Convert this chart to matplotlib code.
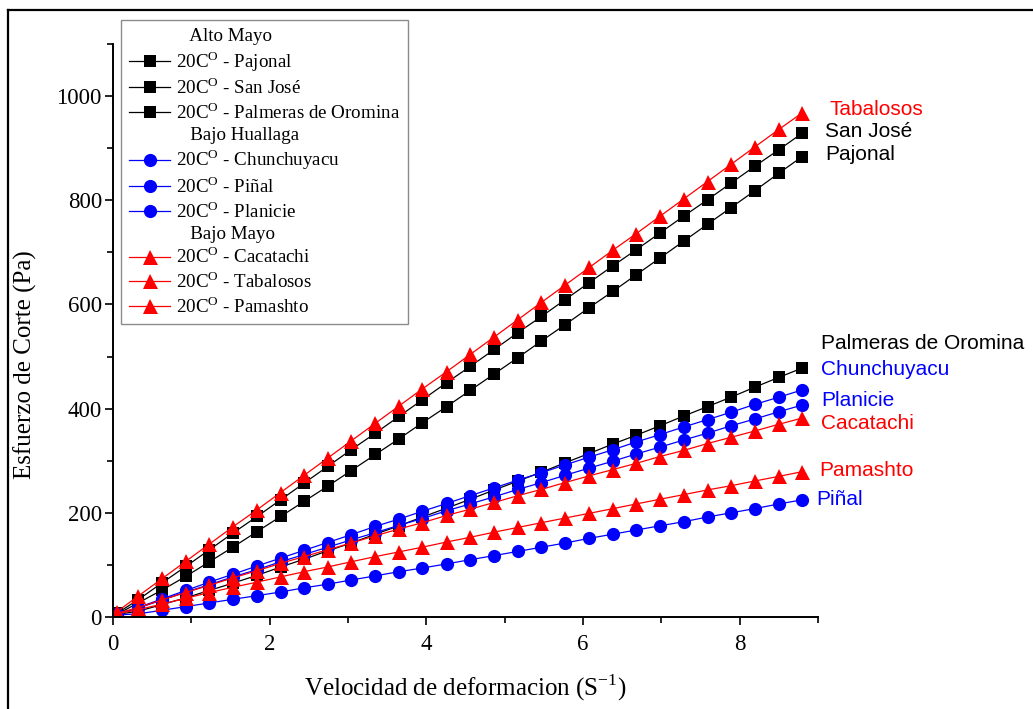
import matplotlib
matplotlib.use("Agg")
import matplotlib.pyplot as plt
from matplotlib.lines import Line2D
from matplotlib.ticker import MultipleLocator

plt.rcParams['font.family'] = ['Liberation Serif', 'DejaVu Serif']
plt.rcParams['mathtext.fontset'] = 'custom'
plt.rcParams['mathtext.rm'] = 'Liberation Serif'

# shear rate (1/s)
x = [0.05, 0.32, 0.63, 0.93, 1.23, 1.53, 1.84, 2.14, 2.44, 2.74,
     3.04, 3.35, 3.65, 3.95, 4.26, 4.56, 4.87, 5.17, 5.47, 5.77,
     6.08, 6.38, 6.68, 6.98, 7.29, 7.59, 7.89, 8.19, 8.50, 8.80]

# Alto Mayo
pajonal = [5, 27, 52, 78, 106, 134, 164, 193, 222, 251,
           281, 312, 342, 373, 404, 435, 467, 498, 530, 561,
           594, 625, 657, 689, 722, 754, 786, 818, 852, 884]
san_jose = [7, 33, 66, 97, 129, 161, 193, 225, 257, 289,
            321, 353, 385, 417, 450, 481, 514, 546, 577, 609,
            642, 674, 705, 737, 770, 801, 833, 865, 897, 929]
palmeras = [5, 11, 24, 37, 51, 65, 80, 96, 111, 127,
            142, 159, 175, 192, 209, 226, 244, 261, 278, 296,
            314, 332, 349, 367, 386, 404, 422, 441, 460, 478]
# Bajo Huallaga
chunchuyacu = [5, 18, 35, 51, 67, 82, 98, 113, 128, 143,
               158, 174, 188, 203, 218, 233, 248, 263, 277, 292,
               307, 321, 336, 350, 365, 379, 393, 408, 422, 436]
pinal = [4, 6, 13, 20, 27, 34, 41, 48, 56, 63,
         71, 79, 87, 94, 102, 110, 118, 126, 134, 142,
         151, 159, 167, 175, 183, 192, 200, 208, 217, 225]
planicie = [5, 17, 33, 48, 62, 77, 91, 106, 120, 134,
            148, 162, 176, 189, 204, 217, 231, 245, 258, 272,
            286, 299, 313, 326, 340, 353, 367, 380, 394, 407]
# Bajo Mayo
cacatachi = [7, 18, 33, 47, 61, 75, 89, 103, 116, 129,
             142, 156, 169, 181, 195, 207, 220, 233, 245, 258,
             271, 283, 295, 308, 320, 333, 345, 357, 370, 382]
tabalosos = [10, 40, 74, 107, 140, 173, 206, 239, 272, 305,
             338, 372, 405, 438, 471, 504, 538, 571, 604, 637,
             671, 704, 736, 769, 803, 836, 869, 902, 936, 968]
pamashto = [6, 14, 25, 36, 47, 57, 67, 77, 87, 96,
            106, 116, 125, 134, 144, 153, 163, 172, 181, 190,
            199, 208, 217, 226, 235, 244, 252, 261, 270, 279]

series = [
    ('Pajonal', pajonal, 'black', 's', 8.6, (23, 2)),
    ('San José', san_jose, 'black', 's', 8.6, (23, 2)),
    ('Palmeras de Oromina', palmeras, 'black', 's', 8.6, (19, 25)),
    ('Chunchuyacu', chunchuyacu, 'blue', 'o', 9.5, (19, 20)),
    ('Piñal', pinal, 'blue', 'o', 9.5, (14, 0)),
    ('Planicie', planicie, 'blue', 'o', 9.5, (19, 4)),
    ('Cacatachi', cacatachi, 'red', '^', 10.8, (19, -5)),
    ('Tabalosos', tabalosos, 'red', '^', 10.8, (27, 3)),
    ('Pamashto', pamashto, 'red', '^', 10.8, (17, 1)),
]

fig = plt.figure(figsize=(10.33, 7.09), dpi=100)
ax = fig.add_axes([113 / 1033, 92 / 709, (818 - 113) / 1033, (617 - 44) / 709])

lines = {}
for name, y, col, mk, ms, off in series:
    ln, = ax.plot(x, y, color=col, marker=mk, markersize=ms, linewidth=0.9,
                  markeredgewidth=0, label='20C$^{\\mathrm{O}}$ - ' + name)
    lines[name] = ln
    ax.annotate(name, (x[-1], y[-1]), xytext=off, textcoords='offset pixels',
                ha='left', va='center', color=col, fontsize=15,
                family=['Liberation Sans', 'DejaVu Sans'])

ax.set_xlim(0, 9)
ax.set_ylim(0, 1100)
ax.xaxis.set_major_locator(MultipleLocator(2))
ax.xaxis.set_minor_locator(MultipleLocator(1))
ax.yaxis.set_major_locator(MultipleLocator(200))
ax.yaxis.set_minor_locator(MultipleLocator(100))
ax.tick_params(which='major', direction='out', length=6, width=1.2, labelsize=16.5)
ax.tick_params(which='minor', direction='out', length=4, width=1.2)
ax.tick_params(axis='x', pad=6)
ax.tick_params(axis='y', pad=2)
for s in ['top', 'right']:
    ax.spines[s].set_visible(False)
for s in ['left', 'bottom']:
    ax.spines[s].set_linewidth(1.4)

ax.set_xlabel('Velocidad de deformacion (S$^{\\mathrm{-1}}$)', fontsize=18, labelpad=13)
ax.set_ylabel('Esfuerzo de Corte (Pa)', fontsize=18, labelpad=14)
ax.yaxis.label.set_y(0.44)

blank = Line2D([], [], linestyle='none', marker='none')
order = [None, 'Pajonal', 'San José', 'Palmeras de Oromina',
         None, 'Chunchuyacu', 'Piñal', 'Planicie',
         None, 'Cacatachi', 'Tabalosos', 'Pamashto']
headers = ['   Alto Mayo', '   Bajo Huallaga', '   Bajo Mayo']
handles, labels = [], []
for k in order:
    if k is None:
        handles.append(blank)
        labels.append(headers.pop(0))
    else:
        handles.append(lines[k])
        labels.append(lines[k].get_label())

leg = fig.legend(handles, labels, loc='upper left', bbox_to_anchor=(121 / 1033, 1 - 20 / 709),
                 fontsize=13.7, frameon=True, fancybox=False, edgecolor='#707070',
                 handlelength=2.2, handletextpad=0.3, labelspacing=0.2, borderpad=0.4,
                 borderaxespad=0)
leg.get_frame().set_linewidth(1.0)

# outer frame
fig.add_artist(Line2D([7.5 / 1033, 7.5 / 1033], [0, 1 - 10 / 709], color='black', linewidth=1.6))
fig.add_artist(Line2D([7.5 / 1033, 1], [1 - 10 / 709, 1 - 10 / 709], color='black', linewidth=1.6))

fig.savefig('out.png', dpi=100)
